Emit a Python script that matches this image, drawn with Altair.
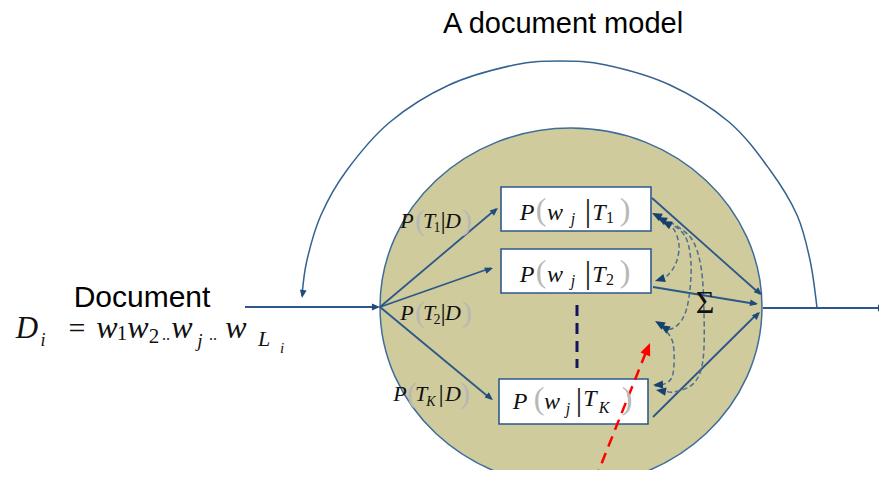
import altair as alt
import pandas as pd

# ---------------- data (reference pixel coordinates) ----------------
# sans-serif labels
SANS_TEXT = ["A document model", "Document"]
SANS_X = [563, 142]
SANS_Y = [33, 307]
SANS_SIZE = [29, 30]

# model ellipse (center)
ELL_X = [571]
ELL_Y = [307]

# big feedback arc
ARC_X = [302, 307, 321, 347, 390, 449, 514, 560, 606, 670, 729, 770, 797, 810, 817]
ARC_Y = [296, 260, 215, 170, 122, 85, 65, 61, 65, 85, 122, 170, 215, 260, 308]

# straight solid segments
SEG_X1 = [245, 380, 380, 380, 652, 653, 653, 763]
SEG_Y1 = [307, 307, 307, 307, 198, 287, 417, 308]
SEG_X2 = [378, 496, 491, 491, 760, 756, 758, 884]
SEG_Y2 = [307, 209, 268, 399, 294, 304, 313, 308]

# topic boxes
BOX_X1 = [501, 501, 499]
BOX_X2 = [651, 651, 648]
BOX_Y1 = [187, 249, 379]
BOX_Y2 = [231, 293, 424]

# dashed curves (id, points)
CURVE_ID = ["a"] * 6 + ["b"] * 7 + ["c"] * 6 + ["d"] * 8
CURVE_X = [660, 673, 679, 676, 667, 657,
           668, 685, 691, 689, 683, 671, 659,
           667, 673, 674, 671, 662, 655,
           670, 691, 701, 704, 703, 694, 674, 658]
CURVE_Y = [219, 228, 245, 263, 276, 281,
           222, 236, 263, 297, 318, 329, 325,
           332, 343, 365, 379, 385, 386,
           222, 238, 267, 313, 360, 383, 392, 389]

# vertical dash between box 2 and box K
VDASH_X = [577]
VDASH_Y1 = [305]
VDASH_Y2 = [368]

# red dashed arrow
RED_X1 = [595]
RED_Y1 = [480]
RED_X2 = [648]
RED_Y2 = [347]

# arrowheads: tip position, heading (deg clockwise from up), size, colour
HEAD_X = [380, 302, 498, 493, 493, 762, 758, 760, 886,
          652, 657, 662, 655, 655, 660, 653, 656, 650]
HEAD_Y = [307, 298, 208, 268, 400, 295, 304, 312, 308,
          213, 217, 221, 281, 321, 325, 385, 390, 343]
HEAD_ANGLE = [90, 189, 50, 71, 129, 131, 99, 45, 90,
              297, 297, 297, 253, 301, 301, 268, 280, 22]
HEAD_SIZE = [260, 260, 260, 260, 260, 260, 260, 260, 260,
             400, 400, 400, 400, 400, 400, 400, 400, 620]
HEAD_COL = ["#1f4a7a"] * 9 + ["#16406e"] * 8 + ["#ff0000"]

# serif text pieces: text, x, y(baseline), size, style (i italic, n normal, g grey)
SERIF_TEXT = [
    # box 1
    "P", "(", "w", "j", "|", "T", "1", ")",
    # box 2
    "P", "(", "w", "j", "|", "T", "2", ")",
    # box K
    "P", "(", "w", "j", "|", "T", "K", ")",
    # P(T1|D)
    "P", "(", "T", "1", "|", "D", ")",
    # P(T2|D)
    "P", "(", "T", "2", "|", "D", ")",
    # P(TK|D)
    "P", "(", "T", "K", "|", "D", ")",
    # formula
    "D", "i", "=", "w", "1", "w", "2", "..", "w", "j", "..", "w", "L", "i",
    # sum
    "Σ",
]
SERIF_X = [
    527, 541, 555, 573, 588, 599, 610, 625,
    527, 541, 555, 573, 588, 599, 610, 625,
    520, 539, 552, 568, 579, 590, 604, 627,
    407, 420, 429, 437, 443, 453, 467,
    407, 420, 429, 437, 443, 453, 467,
    400, 412, 421, 431, 441, 453, 465,
    27, 43, 77, 107, 122, 138, 154, 166, 182, 200, 213, 236, 264, 282,
    705,
]
SERIF_Y = [
    220, 220, 220, 224, 221, 220, 223, 220,
    282, 282, 282, 286, 283, 282, 285, 282,
    409, 409, 409, 414, 410, 406, 413, 409,
    228, 230, 228, 232, 229, 228, 230,
    320, 322, 320, 324, 321, 320, 322,
    401, 403, 401, 406, 402, 401, 403,
    338, 346, 338, 338, 340, 338, 343, 340, 338, 347, 340, 338, 346, 353,
    313,
]
SERIF_SIZE = [
    24, 32, 24, 16, 32, 24, 16, 32,
    24, 32, 24, 16, 32, 24, 16, 32,
    24, 32, 24, 16, 32, 24, 16, 32,
    22, 30, 22, 14, 26, 22, 30,
    22, 30, 22, 14, 26, 22, 30,
    22, 30, 22, 14, 26, 22, 30,
    31, 18, 30, 32, 21, 32, 21, 16, 32, 19, 16, 32, 22, 15,
    32,
]
SERIF_STYLE = [
    "i", "g", "i", "i", "n", "i", "n", "g",
    "i", "g", "i", "i", "n", "i", "n", "g",
    "i", "g", "i", "i", "n", "i", "i", "g",
    "i", "g", "i", "n", "n", "i", "g",
    "i", "g", "i", "n", "n", "i", "g",
    "i", "g", "i", "i", "n", "i", "g",
    "i", "i", "n", "i", "n", "i", "n", "n", "i", "i", "n", "i", "i", "i",
    "n",
]

# ---------------- shapes / styles ----------------
LINE_COL = "#2b5889"
ELLIPSE_PATH = ("M-1,0 C-1,-0.5175 -0.5523,-0.937 0,-0.937 "
                "C0.5523,-0.937 1,-0.5175 1,0 "
                "C1,0.5175 0.5523,0.937 0,0.937 "
                "C-0.5523,0.937 -1,0.5175 -1,0 Z")
ARROW_PATH = "M0,0 L-0.42,1 L0.42,1 Z"

XS = alt.Scale(domain=[8, 879], nice=False, zero=False)
YS = alt.Scale(domain=[8, 470], nice=False, zero=False, reverse=True)


def X(f="x"):
    return alt.X(f"{f}:Q", scale=XS, axis=None)


def Y(f="y"):
    return alt.Y(f"{f}:Q", scale=YS, axis=None)


# ---------------- tables ----------------
ell_df = pd.DataFrame({"x": ELL_X, "y": ELL_Y})
arc_df = pd.DataFrame({"x": ARC_X, "y": ARC_Y, "order": range(len(ARC_X))})
seg_df = pd.DataFrame({"x": SEG_X1, "y": SEG_Y1, "x2": SEG_X2, "y2": SEG_Y2})
box_df = pd.DataFrame({"x": BOX_X1, "x2": BOX_X2, "y": BOX_Y1, "y2": BOX_Y2})
curve_df = pd.DataFrame({"id": CURVE_ID, "x": CURVE_X, "y": CURVE_Y,
                         "order": range(len(CURVE_X))})
vdash_df = pd.DataFrame({"x": VDASH_X, "y": VDASH_Y1, "y2": VDASH_Y2})
red_df = pd.DataFrame({"x": RED_X1, "y": RED_Y1, "x2": RED_X2, "y2": RED_Y2})
head_df = pd.DataFrame({"x": HEAD_X, "y": HEAD_Y, "angle": HEAD_ANGLE,
                        "size": HEAD_SIZE, "col": HEAD_COL})
sans_df = pd.DataFrame({"x": SANS_X, "y": SANS_Y, "t": SANS_TEXT, "size": SANS_SIZE})
serif_df = pd.DataFrame({"x": SERIF_X, "y": SERIF_Y, "t": SERIF_TEXT,
                         "size": SERIF_SIZE, "style": SERIF_STYLE})

# ---------------- layers ----------------
ellipse = alt.Chart(ell_df).mark_point(
    shape=ELLIPSE_PATH, filled=True, fill="#cfcb9c", stroke="#3f6d9c",
    strokeWidth=1.5, opacity=1, size=(2 * 191) ** 2
).encode(x=X(), y=Y())

arc = alt.Chart(arc_df).mark_line(
    interpolate="cardinal", color="#35628f", strokeWidth=1.5
).encode(x=X(), y=Y(), order=alt.Order("order:Q"))

segs = alt.Chart(seg_df).mark_rule(color=LINE_COL, strokeWidth=1.8).encode(
    x=X(), y=Y(), x2=alt.X2("x2:Q"), y2=alt.Y2("y2:Q"))

boxes = alt.Chart(box_df).mark_rect(
    fill="white", stroke="#2d5a8a", strokeWidth=1.6
).encode(x=X(), x2=alt.X2("x2:Q"), y=Y(), y2=alt.Y2("y2:Q"))

curves = alt.Chart(curve_df).mark_line(
    interpolate="cardinal", color="#4e6e8f", strokeWidth=1.5, strokeDash=[5, 3]
).encode(x=X(), y=Y(), detail=alt.Detail("id:N"), order=alt.Order("order:Q"))

vdash = alt.Chart(vdash_df).mark_rule(
    color="#14145e", strokeWidth=3, strokeDash=[11, 7]
).encode(x=X(), y=Y(), y2=alt.Y2("y2:Q"))

red = alt.Chart(red_df).mark_rule(
    color="#ff0000", strokeWidth=2.5, strokeDash=[11, 7]
).encode(x=X(), y=Y(), x2=alt.X2("x2:Q"), y2=alt.Y2("y2:Q"))

heads = alt.Chart(head_df).mark_point(
    shape=ARROW_PATH, filled=True, opacity=1, strokeWidth=0
).encode(
    x=X(), y=Y(),
    angle=alt.Angle("angle:Q", scale=None),
    size=alt.Size("size:Q", scale=None),
    color=alt.Color("col:N", scale=None),
)

sans = alt.Chart(sans_df).mark_text(
    font="Liberation Sans", color="black", align="center", baseline="alphabetic"
).encode(x=X(), y=Y(), text="t:N", size=alt.Size("size:Q", scale=None))


def serif_layer(style, color, italic):
    kw = dict(font="Liberation Serif", color=color, align="center",
              baseline="alphabetic")
    if italic:
        kw["fontStyle"] = "italic"
    return alt.Chart(serif_df[serif_df["style"] == style]).mark_text(**kw).encode(
        x=X(), y=Y(), text="t:N", size=alt.Size("size:Q", scale=None))


serif_i = serif_layer("i", "#111111", True)
serif_n = serif_layer("n", "#111111", False)
serif_g = serif_layer("g", "#b8b8b8", False)

chart = alt.layer(
    ellipse, arc, segs, vdash, boxes, curves, red, heads,
    sans, serif_g, serif_i, serif_n,
).properties(
    width=871, height=462, padding=0,
    autosize=alt.AutoSizeParams(type="none"),
    background="white",
).configure_view(stroke=None)

chart.save("out.html", embed_options={"renderer": "svg", "actions": False})
